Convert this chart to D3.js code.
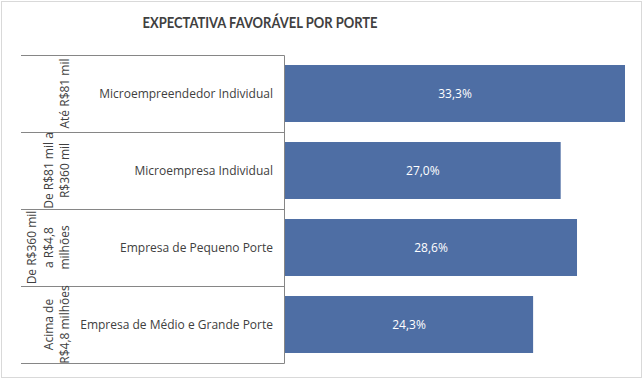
<!DOCTYPE html>
<html><head><meta charset="utf-8">
<script src="https://cdn.jsdelivr.net/npm/d3@7"></script>
<style>body{margin:0;background:#fff}svg{display:block}</style>
</head><body>
<script>
const title = "EXPECTATIVA FAVORÁVEL POR PORTE";
const groups = [["Até R$81 mil"], ["De R$81 mil a", "R$360 mil"], ["De R$360 mil", "a R$4,8", "milhões"], ["Acima de", "R$4,8 milhões"]];
const categories = ["Microempreendedor Individual", "Microempresa Individual", "Empresa de Pequeno Porte", "Empresa de Médio e Grande Porte"];
const values = [33.3, 27.0, 28.6, 24.3];

const W = 644, H = 381;
const svg = d3.select("body").append("svg").attr("width", W).attr("height", H);
const font = "'Open Sans', sans-serif";

svg.append("rect").attr("x", 1.5).attr("y", 1.5).attr("width", 640).attr("height", 376)
  .attr("fill", "#fff").attr("stroke", "#d9d9d9").attr("stroke-width", 1);

svg.append("text").attr("x", 260).attr("y", 28).attr("text-anchor", "middle")
  .attr("font-family", "Lato, sans-serif").attr("font-weight", "bold").attr("font-size", 15.5)
  .attr("textLength", 235).attr("lengthAdjust", "spacingAndGlyphs")
  .attr("fill", "#404040").text(title);

const y = d3.scaleBand().domain(categories).range([55, 363]).paddingInner(0.26).paddingOuter(0.13);
const x = d3.scaleLinear().domain([0, 33.3]).range([285, 625]);

const step = y.step();
const bounds = categories.map((c, i) => 55 + i * step).concat([363]);
svg.selectAll("line.sep").data(bounds).join("line")
  .attr("x1", 21).attr("x2", 284.5).attr("y1", d => Math.round(d) + 0.5).attr("y2", d => Math.round(d) + 0.5)
  .attr("stroke", "#868686").attr("stroke-width", 1);
svg.append("line").attr("x1", 284.5).attr("x2", 284.5).attr("y1", 55.5).attr("y2", 363.5)
  .attr("stroke", "#868686").attr("stroke-width", 1);

svg.selectAll("rect.bar").data(values).join("rect").attr("class", "bar")
  .attr("x", x(0)).attr("y", (d, i) => y(categories[i]))
  .attr("width", d => x(d) - x(0)).attr("height", y.bandwidth())
  .attr("fill", "#4e6ea4");

svg.selectAll("text.val").data(values).join("text").attr("class", "val")
  .attr("x", d => (x(0) + x(d)) / 2).attr("y", (d, i) => y(categories[i]) + y.bandwidth() / 2 + 4.5)
  .attr("text-anchor", "middle").attr("font-family", font).attr("font-size", 12)
  .attr("fill", "#fff").text(d => d3.format(".1f")(d).replace(".", ",") + "%");

svg.selectAll("text.cat").data(categories).join("text").attr("class", "cat")
  .attr("x", 273).attr("y", d => y(d) + y.bandwidth() / 2 + 4.5)
  .attr("text-anchor", "end").attr("font-family", font).attr("font-size", 12)
  .attr("fill", "#404040").text(d => d);

groups.forEach((lines, i) => {
  const cy = y(categories[i]) + y.bandwidth() / 2;
  const n = lines.length;
  lines.forEach((ln, j) => {
    const cx = 69 - (n - 1 - j) * 16.5;
    svg.append("text").attr("transform", `translate(${cx},${cy}) rotate(-90)`)
      .attr("text-anchor", "middle").attr("font-family", font).attr("font-size", 12)
      .attr("fill", "#404040").text(ln);
  });
});
</script>
</body></html>
